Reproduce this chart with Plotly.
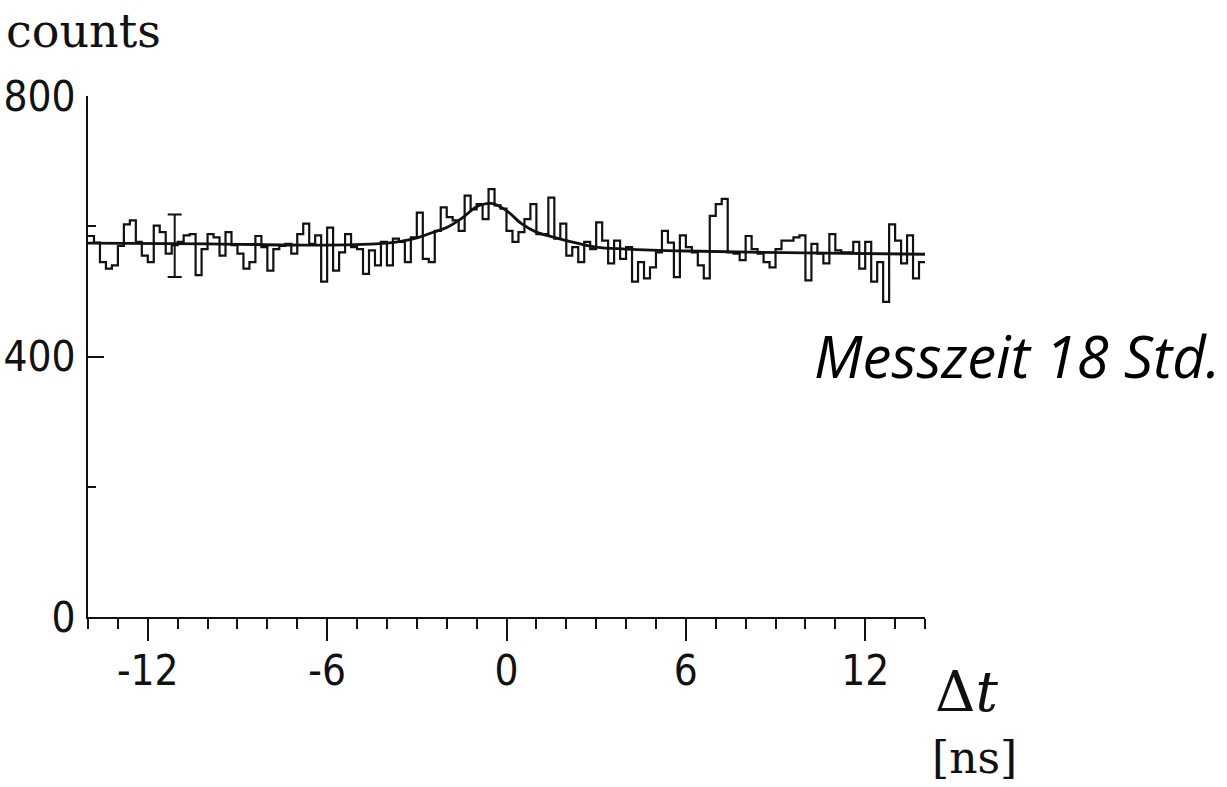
import numpy as np
import plotly.graph_objects as go

# ---- data ----
bin_start = -14.0
bin_width = 0.2
counts = [
    585, 575, 545, 535, 540, 570, 603, 609, 576, 555,
    545, 601, 591, 558, 571, 576, 586, 588, 525, 565,
    588, 583, 555, 591, 571, 558, 535, 545,
    585, 568, 532, 565, 570, 573, 558, 588, 604, 573,
    586, 515, 598, 532, 560, 588, 568, 565, 527, 563,
    540, 576, 540, 581, 576, 545, 583, 621,
    550, 545, 593, 629, 614, 609, 593, 647, 626, 634,
    611, 657, 632, 627, 593, 576, 591, 611, 634, 588,
    588, 644, 581, 604, 555, 568, 545, 576,
    565, 606, 578, 543, 578, 550, 568, 515, 545, 520,
    537, 560, 593, 575, 522, 586, 568, 560, 540, 520,
    616, 634, 642, 560, 558, 548, 585, 565,
    558, 545, 537, 565, 578, 578, 583, 586, 517, 573,
    558, 543, 588, 563, 560, 560, 576, 535, 576, 515,
    545, 484, 603, 578, 543, 586, 520, 545,
]

fit_x = [-14, -10, -6, -4, -3.5, -3, -2.5, -2, -1.5, -1, -0.5, 0, 0.5, 1, 1.5, 2, 3, 4, 6, 10, 14]
fit_y = [574, 573, 571, 574, 577, 582, 590, 598, 612, 630, 635, 624, 604, 591, 584, 578, 568, 565, 562, 559, 557]

err_x = [-11.1]
err_y = [570]
err_size = [48]

x_major_ticks = [-12, -6, 0, 6, 12]
y_major_ticks = [0, 400, 800]

# ---- figure ----
edges = bin_start + bin_width * np.arange(len(counts) + 1)
hist_y = counts + [counts[-1]]

ink = "#111111"
tick_font = dict(family="Liberation Sans Narrow, DejaVu Sans Condensed, Roboto, sans-serif",
                 size=42, color=ink)

fig = go.Figure()
fig.add_trace(go.Scatter(x=edges, y=hist_y, mode="lines", line_shape="hv",
                         line=dict(color=ink, width=2.2), hoverinfo="skip"))
fig.add_trace(go.Scatter(x=fit_x, y=fit_y, mode="lines", line_shape="spline",
                         line=dict(color=ink, width=2.8), hoverinfo="skip"))
fig.add_trace(go.Scatter(x=err_x, y=err_y, mode="markers",
                         marker=dict(size=1, color=ink),
                         error_y=dict(type="data", array=err_size, visible=True,
                                      color=ink, thickness=2, width=7)))

fig.update_layout(
    width=1227, height=787,
    margin=dict(l=88, r=302, t=96, b=170),
    paper_bgcolor="white", plot_bgcolor="white",
    showlegend=False,
    xaxis=dict(range=[-14, 14], showgrid=False, zeroline=False, automargin=False,
               showline=True, linecolor=ink, linewidth=2,
               tickmode="array", tickvals=x_major_ticks,
               ticktext=[str(v) for v in x_major_ticks],
               ticks="outside", ticklen=22, tickwidth=2, tickcolor=ink,
               minor=dict(dtick=1, tick0=0, ticks="outside", ticklen=10,
                          tickwidth=2, tickcolor=ink, showgrid=False),
               tickfont=tick_font, ticklabelstandoff=-6),
    yaxis=dict(range=[0, 800], showgrid=False, zeroline=False, automargin=False,
               showline=True, linecolor=ink, linewidth=2,
               tickmode="array", tickvals=y_major_ticks,
               ticktext=[str(v) for v in y_major_ticks],
               ticks="inside", ticklen=16, tickwidth=2, tickcolor=ink,
               minor=dict(dtick=200, tick0=0, ticks="inside", ticklen=8,
                          tickwidth=2, tickcolor=ink, showgrid=False),
               tickfont=tick_font, ticklabelstandoff=2),
)

W, H = 1227 - 88 - 302.0, 521.0
def px(x):
    return (x - 88) / W
def py(y):
    return (617 - y) / H

fig.add_annotation(text="counts", xref="paper", yref="paper",
                   x=px(4), y=py(31), xanchor="left", yanchor="middle",
                   showarrow=False,
                   font=dict(family="DejaVu Serif, Liberation Serif, serif", size=46, color=ink))
fig.add_annotation(text="Δ<i>t</i>", xref="paper", yref="paper",
                   x=px(933), y=py(691), xanchor="left", yanchor="middle",
                   showarrow=False,
                   font=dict(family="DejaVu Serif, Liberation Serif, serif", size=56, color=ink))
fig.add_annotation(text="[ns]", xref="paper", yref="paper",
                   x=px(930), y=py(757), xanchor="left", yanchor="middle",
                   showarrow=False,
                   font=dict(family="DejaVu Serif, Liberation Serif, serif", size=44, color=ink))
fig.add_annotation(text="Messzeit 18 Std.", xref="paper", yref="paper",
                   x=px(1222), y=py(355), xanchor="right", yanchor="middle",
                   showarrow=False,
                   font=dict(family="Open Sans, Noto Sans, sans-serif", size=58,
                             color="black", style="italic"))

fig.write_html("out.html")
